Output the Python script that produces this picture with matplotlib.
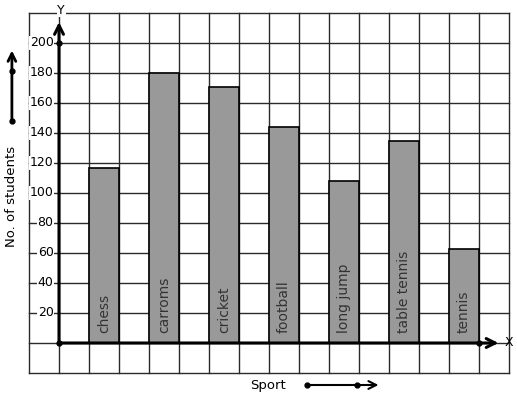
import matplotlib.pyplot as plt

sports = ["chess", "carroms", "cricket", "football", "long jump", "table tennis", "tennis"]
students = [117, 180, 171, 144, 108, 135, 63]
y_ticks = [20, 40, 60, 80, 100, 120, 140, 160, 180, 200]


def main():
    fig = plt.figure(figsize=(5.17, 3.99), dpi=100)
    ax = fig.add_axes([29 / 517, 26 / 399, 480 / 517, 360 / 399])
    ax.set_xlim(-1, 15)
    ax.set_ylim(-20, 220)
    ax.axis("off")

    # grid paper
    for gx in range(-1, 16):
        ax.plot([gx, gx], [-20, 220], color="#2a2a2a", lw=1, zorder=1, clip_on=False)
    for gy in range(-20, 221, 20):
        ax.plot([-1, 15], [gy, gy], color="#2a2a2a", lw=1, zorder=1, clip_on=False)

    # bars, one grid cell wide, leaving a gap cell between
    xs = [1 + 2 * i for i in range(len(sports))]
    ax.bar(xs, students, width=1, align="edge", color="#999999",
           edgecolor="black", lw=1.2, zorder=2)
    for x, name in zip(xs, sports):
        ax.text(x + 0.5, 6.5, name, rotation=90, ha="center", va="bottom",
                fontsize=10, color="#333333", zorder=3)

    # axes with arrows
    ax.annotate("", xy=(0, 214), xytext=(0, 0),
                arrowprops=dict(arrowstyle="->", lw=2.2, color="black",
                                mutation_scale=16, shrinkA=0, shrinkB=0),
                zorder=4, annotation_clip=False)
    ax.annotate("", xy=(14.65, 0), xytext=(0, 0),
                arrowprops=dict(arrowstyle="->", lw=2.2, color="black",
                                mutation_scale=16, shrinkA=0, shrinkB=0),
                zorder=4, annotation_clip=False)
    ax.plot([0, 0, 14], [0, 200, 0], "o", color="black", ms=3.5, zorder=5, clip_on=False)
    ax.text(0.07, 222, "Y", ha="center", va="center", fontsize=9,
            bbox=dict(facecolor="white", edgecolor="none", pad=0.5), zorder=5)
    ax.text(15.0, 0, "X", ha="center", va="center", fontsize=9, zorder=5)

    for t in y_ticks:
        ax.text(-0.18, t, str(t), ha="right", va="center", fontsize=9,
                bbox=dict(facecolor="white", edgecolor="none", pad=0.3), zorder=3)

    # y label with its arrow
    ax.text(-1.57, 98, "No. of students", rotation=90, ha="center", va="center",
            fontsize=9.5, clip_on=False)
    ax.annotate("", xy=(-1.57, 195), xytext=(-1.57, 148),
                arrowprops=dict(arrowstyle="->", lw=2, color="black",
                                mutation_scale=14, shrinkA=0, shrinkB=0),
                annotation_clip=False)
    ax.plot([-1.57, -1.57], [148, 181.3], "o", color="black", ms=3.5, clip_on=False)

    # x label with its arrow
    ax.text(6.97, -28, "Sport", ha="center", va="center", fontsize=9.5, clip_on=False)
    ax.annotate("", xy=(10.65, -28), xytext=(8.27, -28),
                arrowprops=dict(arrowstyle="->", lw=1.5, color="black",
                                mutation_scale=14, shrinkA=0, shrinkB=0),
                annotation_clip=False)
    ax.plot([8.27, 9.93], [-28, -28], "o", color="black", ms=3.5, clip_on=False)

    fig.savefig("out.png", dpi=100, facecolor="white")


if __name__ == "__main__":
    main()
